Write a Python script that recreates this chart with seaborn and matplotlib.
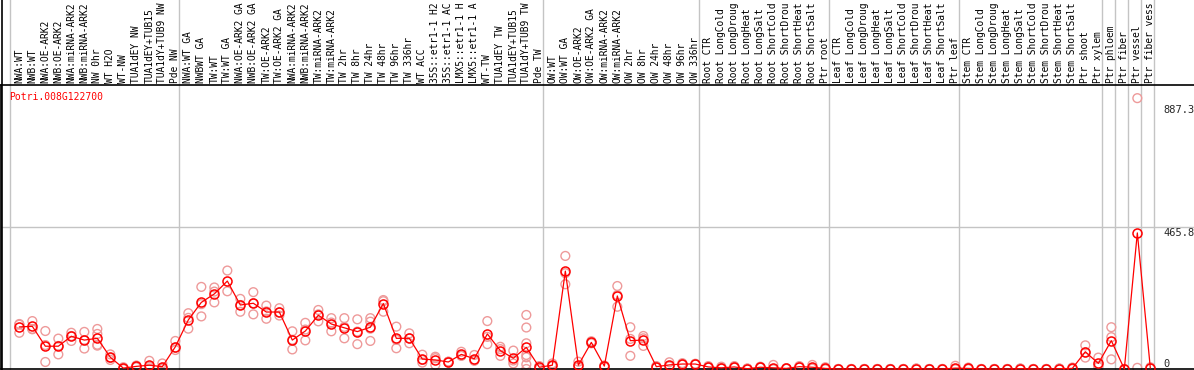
import pandas as pd
import seaborn as sns
import matplotlib.pyplot as plt
from matplotlib.lines import Line2D

# expression profile of one poplar gene over all samples
gene = "Potri.008G122700"

samples = [
    # NW
    "NWA:WT", "NWB:WT", "NWA:OE-ARK2", "NWB:OE-ARK2", "NWA:miRNA-ARK2", "NWB:miRNA-ARK2",
    "NW 0hr", "WT H2O", "WT-NW", "TUA1dEY NW", "TUA1dEY+TUB15 NW", "TUA1dY+TUB9 NW", "Pde NW",
    # TW
    "NWA:WT GA", "NWBWT GA", "TW:WT", "TW:WT GA", "NWA:OE-ARK2 GA", "NWB:OE-ARK2 GA",
    "TW:OE-ARK2", "TW:OE-ARK2 GA", "NWA:miRNA-ARK2 GA", "NWB:miRNA-ARK2 GA", "TW:miRNA-ARK2",
    "TW:miRNA-ARK2 GA", "TW 2hr", "TW 8hr", "TW 24hr", "TW 48hr", "TW 96hr", "TW 336hr", "WT ACC",
    "35S::etr1-1 H2O", "35S::etr1-1 ACC", "LMX5::etr1-1 H2O", "LMX5::etr1-1 ACC", "WT-TW",
    "TUA1dEY TW", "TUA1dEY+TUB15 TW", "TUA1dY+TUB9 TW", "Pde TW",
    # OW
    "OW:WT", "OW:WT GA", "OW:OE-ARK2", "OW:OE-ARK2 GA", "OW:miRNA-ARK2", "OW:miRNA-ARK2 GA",
    "OW 2hr", "OW 8hr", "OW 24hr", "OW 48hr", "OW 96hr", "OW 336hr",
    # root
    "Root CTR", "Root LongCold", "Root LongDrought", "Root LongHeat", "Root LongSalt",
    "Root ShortCold", "Root ShortDrought", "Root ShortHeat", "Root ShortSalt", "Ptr root",
    # leaf
    "Leaf CTR", "Leaf LongCold", "Leaf LongDrought", "Leaf LongHeat", "Leaf LongSalt",
    "Leaf ShortCold", "Leaf ShortDrought", "Leaf ShortHeat", "Leaf ShortSalt", "Ptr leaf",
    # stem
    "Stem CTR", "Stem LongCold", "Stem LongDrought", "Stem LongHeat", "Stem LongSalt",
    "Stem ShortCold", "Stem ShortDrought", "Stem ShortHeat", "Stem ShortSalt", "Ptr shoot", "Ptr xylem",
    # cell types
    "Ptr phloem", "Ptr fiber", "Ptr vessel", "Ptr fiber vessel",
]

means = [
    144, 146, 78, 78, 112, 99, 105, 40, 3, 9, 13, 8, 76,
    168, 228, 257, 301, 219, 225, 195, 195, 99, 130, 184, 154, 141, 128, 143, 224, 105, 105,
    34, 31, 24, 50, 35, 120, 63, 37, 74, 6,
    13, 335, 13, 91, 10, 250, 97, 99, 8, 14, 17, 17,
    7, 4, 7, 1, 6, 4, 2, 8, 6, 2,
    0, 0, 0, 0, 0, 0, 1, 0, 0, 3,
    2, 0, 0, 0, 1, 0, 0, 1, 2, 59, 19,
    97, 0, 465.8, 3,
]

reps = [
    [154, 124, 152], [164, 137, 136], [130, 24, 82], [104, 50, 79], [124, 96, 113],
    [127, 70, 99], [137, 120, 83, 80], [50, 31, 38], [2, 0, 6], [12, 8, 6], [28, 8, 2],
    [19, 4, 0], [96, 65, 73],
    [191, 138, 175], [281, 180, 222], [279, 228, 265], [337, 266], [240, 196, 219],
    [263, 187, 225], [217, 172, 197], [194, 183, 208], [129, 67, 100], [158, 98, 135],
    [202, 163, 187], [174, 129, 159], [174, 105, 144], [170, 85, 128], [174, 162, 96, 138],
    [236, 196, 232], [145, 71, 100], [122, 88, 105], [22, 31, 49], [42, 14, 37], [25, 22, 25],
    [59, 45, 46], [48, 30, 28], [164, 85, 110], [68, 45, 76], [63, 19, 29],
    [185, 142, 88, 48, 16, 0, 40], [0, 10, 8],
    [19, 10, 10], [387, 290, 328], [25, 8, 6], [95, 88, 90], [10, 12, 8], [284, 213, 253],
    [143, 45, 103], [113, 79, 105], [8, 6, 10], [23, 10, 9], [20, 15, 16], [17, 18, 16],
    [10, 5, 6], [8, 2, 2], [10, 5, 6], [2, 0, 1], [8, 5, 5], [14, 0, 0], [3, 1, 2],
    [10, 6, 8], [14, 2, 2], [6, 0, 0],
    [0, 0, 0], [0, 0, 0], [0, 0, 0], [0, 0, 0], [0, 0, 0], [0, 0, 0], [2, 1, 0],
    [0, 0, 0], [0, 0, 0], [11, 0, 0],
    [5, 1, 0], [0, 0, 0], [0, 0, 0], [0, 0, 0], [2, 1, 0], [0, 0, 0], [0, 0, 0],
    [2, 1, 0], [5, 1, 0], [81, 39, 57], [39, 7, 11],
    [143, 109, 33], [0, 0], [927, 4], [6, 2],
]

# first sample of each group (last entry closes the plot)
group_starts = [0, 13, 41, 53, 63, 73, 84, 85, 86, 87, 88]

right_labels = ["887.3", "465.8", "0"]
right_values = [887.3, 465.8, 0]

mean_df = pd.DataFrame({"pos": range(len(samples)), "value": means})
rep_df = pd.DataFrame(
    [(i, v) for i, r in enumerate(reps) for v in r], columns=["pos", "value"]
)

sns.set_style("white")
plt.rcParams["font.family"] = ["DejaVu Sans Mono", "DejaVu Sans"]

W, H = 1194, 370
fig = plt.figure(figsize=(W / 100, H / 100), dpi=100)
# axes: x from 1px to right edge, y from 85px down to 369px
ax = fig.add_axes([1 / W, 1 / H, (W - 1) / W, 284 / H])

ymax = 972
ax.set_xlim(-1.41, -1.41 + (W - 1) / 13)
ax.set_ylim(0, ymax)

grey = "#c4c4c4"
pink = "#ee9a9a"

for g in group_starts:
    ax.axvline(g - 0.715, ymin=0, ymax=1.31, color=grey, lw=1, clip_on=False, zorder=0)
ax.axhline(ymax / 2, color=grey, lw=1, zorder=0)

sns.scatterplot(data=rep_df, x="pos", y="value", ax=ax, marker="o", s=40,
                facecolor="none", edgecolor=pink, linewidth=1, clip_on=False, zorder=2, legend=False)
sns.lineplot(data=mean_df, x="pos", y="value", ax=ax, color="red", lw=0.9,
             marker="o", markersize=6.5, markerfacecolor="none", markeredgecolor="red",
             markeredgewidth=1.1, clip_on=False, zorder=3, legend=False)

ax.set_xticks([])
ax.set_yticks([])
ax.set_xlabel("")
ax.set_ylabel("")
for side in ["left", "top", "bottom"]:
    ax.spines[side].set_color("black")
    ax.spines[side].set_linewidth(1.2)
ax.spines["right"].set_visible(False)

# sample names above the plot; the header only has room for 14 characters
xform = ax.get_xaxis_transform()
for i, s in enumerate(samples):
    ax.text(i, 1 + 2 / 284, s[:14].rstrip(), transform=xform, rotation=90,
            ha="center", va="bottom", fontsize=6.9, color="black")

for lab, v in zip(right_labels, right_values):
    ax.text(87.98, v, lab, ha="left", va="bottom" if v == 0 else "center", fontsize=7.5)

fig.text(9 / W, 1 - 97 / H, gene, color="red", fontsize=7, va="center")
fig.add_artist(Line2D([1.5 / W, 1.5 / W], [0, 1], color="black", lw=1.2))

fig.savefig("out.png", dpi=100)
